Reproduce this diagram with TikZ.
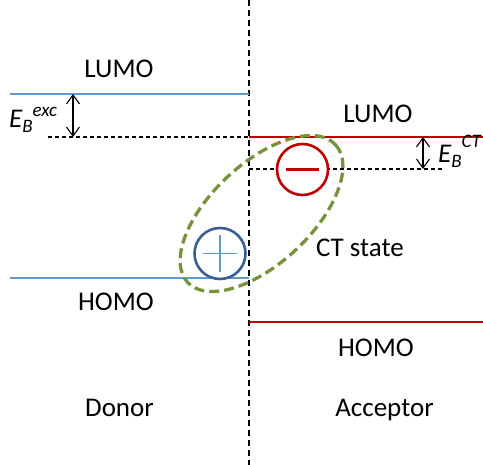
\documentclass[tikz,border=0pt]{standalone}
\usepackage{fontspec}
\setmainfont{Carlito}
\usetikzlibrary{arrows.meta}
\definecolor{donorblue}{RGB}{91,155,213}
\definecolor{holeblue}{RGB}{58,95,150}
\definecolor{accred}{RGB}{192,0,0}
\definecolor{ctgreen}{RGB}{119,147,60}
\newcommand{\lblsize}{\fontsize{27}{32}\selectfont}
\newcommand{\idxsize}{\fontsize{19}{22}\selectfont}

\begin{document}
\begin{tikzpicture}[x=1pt,y=-1pt,>={Straight Barb[length=9pt,width=13pt]},
  lbl/.style={font=\lblsize,anchor=base,inner sep=0pt},
  level/.style={line width=1.5pt},
  guide/.style={dash pattern=on 4pt off 3pt,line width=1.2pt},
  charge/.style={circle,draw,fill=white,line width=2.6pt,minimum size=51pt,inner sep=0pt}]
\useasboundingbox (0,0) rectangle (483,465);
% interface
\draw[dash pattern=on 6pt off 4pt,line width=1.6pt] (249,0) -- (249,465);
% donor levels
\draw[level,donorblue] (10,94) -- (249,94);
\draw[level,donorblue] (10,278) -- (249,278);
\draw[guide] (48,137) -- (249,137);
% acceptor levels
\draw[level,accred] (249,137) -- (483,137);
\draw[level,accred] (249,322) -- (483,322);
\draw[guide] (249,169) -- (443,169);
% binding energies
\coordinate (exctop) at (73,94);
\coordinate (excbot) at (73,137);
\draw[<->,line width=1.1pt] (exctop) -- (excbot);
\coordinate (cttop) at (423,137);
\coordinate (ctbot) at (423,169);
\draw[<->,line width=1.1pt] (cttop) -- (ctbot);
\node[lbl,anchor=base west] (ebexc) at (9,128) {\itshape E\raisebox{-5pt}{\idxsize B}\raisebox{11pt}{\idxsize exc}};
\node[lbl,anchor=base west] (ebct) at (438,163) {\itshape E\raisebox{-5pt}{\idxsize B}\raisebox{15pt}{\idxsize CT}};
% CT state
\draw[ctgreen,line width=3.3pt,dash pattern=on 10pt off 5pt,rotate around={43:(261.5,213.5)}]
  (261.5,213.5) ellipse [x radius=101,y radius=50];
\node[charge,draw=accred] (elec) at (302.5,169.5) {};
\draw[accred,line width=2.8pt] (elec.center) +(-16.5,0) -- +(16.5,0);
\node[charge,draw=holeblue] (hole) at (220,253.5) {};
\draw[donorblue,line width=1.8pt] (hole.center) +(-17,0) -- +(17,0);
\draw[donorblue,line width=1.8pt] (hole.center) +(0,-18.5) -- +(0,18.5);
% labels
\node[lbl] (dlumo) at (119,78) {LUMO};
\node[lbl] (dhomo) at (116,311) {HOMO};
\node[lbl] (alumo) at (378,123) {LUMO};
\node[lbl] (ahomo) at (376,357) {HOMO};
\node[lbl] (ctlbl) at (360,257) {CT state};
\node[lbl] (donor) at (119.5,417) {Donor};
\node[lbl] (acceptor) at (384.5,417) {Acceptor};
\end{tikzpicture}
\end{document}
